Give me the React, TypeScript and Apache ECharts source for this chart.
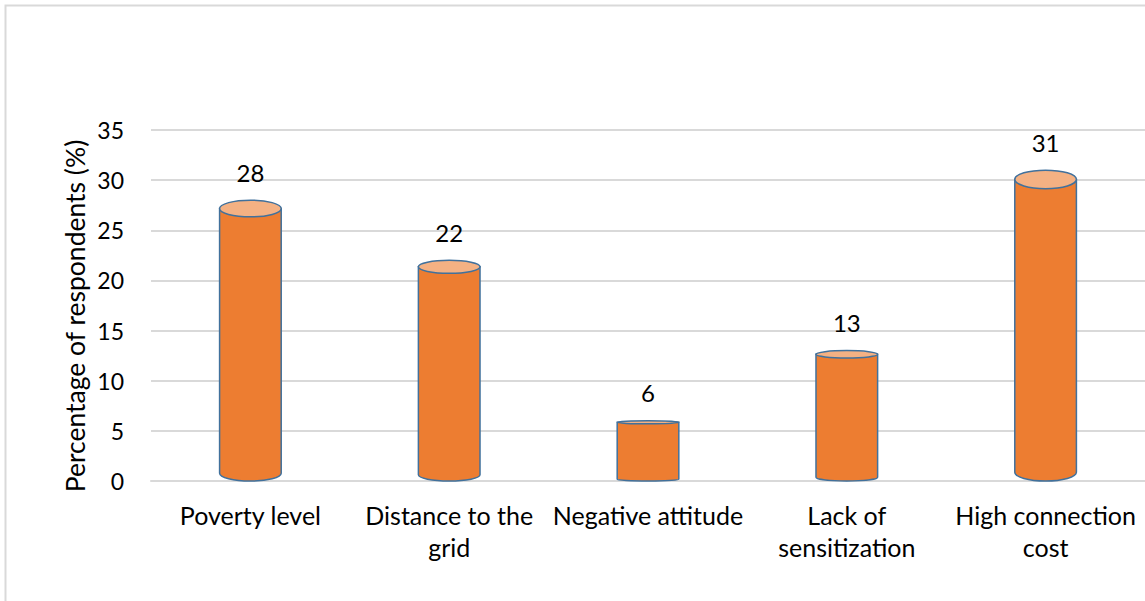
import React, { useEffect, useRef } from "react";
import * as echarts from "echarts";

// Barriers to grid connection, share of respondents
const categories = [
  "Poverty level",
  "Distance to the\ngrid",
  "Negative attitude",
  "Lack of\nsensitization",
  "High connection\ncost",
];
const values = [28, 22, 6, 13, 31];
const yMin = 0;
const yMax = 35;
const yStep = 5;
const yTitle = "Percentage of respondents (%)";

const FONT = "Lato, 'Open Sans', sans-serif";
const BODY = "#ED7D31";
const CAP = "#F4B183";
const EDGE = "#41719C";
const GRID = "#d9d9d9";

export default function App() {
  const ref = useRef<HTMLDivElement>(null);

  useEffect(() => {
    if (!ref.current) return;
    const chart = echarts.init(ref.current, null, { renderer: "svg" });

    // Cylinder: body with rounded base, lighter elliptical cap, value above
    const renderItem = (params: any, api: any) => {
      const i = api.value(0);
      const v = api.value(1);
      const top = api.coord([i, v]);
      const base = api.coord([i, 0]);
      const band = api.size([1, 0])[0];
      const rx = (band * 0.31) / 2;
      const cx = top[0];
      const yTop = top[1];
      const y0 = base[1];
      const ryTop = Math.max(1.3, 0.031 * (y0 - 12 - yTop));
      const cyTop = yTop + ryTop;
      const ryBot = Math.max(1.2, 0.028 * (y0 - yTop));
      const cyBot = y0 - ryBot;
      const xl = cx - rx;
      const xr = cx + rx;

      const bodyPath =
        `M ${xl} ${cyTop} L ${xl} ${cyBot} ` +
        `A ${rx} ${ryBot} 0 0 0 ${xr} ${cyBot} L ${xr} ${cyTop} Z`;
      const capPath =
        `M ${xl} ${cyTop} A ${rx} ${ryTop} 0 1 0 ${xr} ${cyTop} ` +
        `A ${rx} ${ryTop} 0 1 0 ${xl} ${cyTop} Z`;

      return {
        type: "group",
        children: [
          {
            type: "path",
            shape: { pathData: bodyPath },
            style: { fill: BODY, stroke: EDGE, lineWidth: 1.5 },
          },
          {
            type: "path",
            shape: { pathData: capPath },
            style: { fill: CAP, stroke: EDGE, lineWidth: 1.5 },
          },
          {
            type: "text",
            x: cx,
            y: yTop - 28,
            style: {
              text: String(v),
              fill: "#000",
              fontSize: 24,
              fontFamily: FONT,
              align: "center",
              verticalAlign: "middle",
            },
          },
        ],
      };
    };

    chart.setOption({
      animation: false,
      backgroundColor: "#fff",
      grid: { left: 151, top: 130, width: 1000, height: 351 },
      xAxis: {
        type: "category",
        data: categories,
        axisLine: { show: true, lineStyle: { color: GRID, width: 2 } },
        axisTick: { show: false },
        axisLabel: {
          color: "#000",
          fontSize: 25,
          fontFamily: FONT,
          lineHeight: 32,
          margin: 18,
          interval: 0,
        },
      },
      yAxis: {
        type: "value",
        min: yMin,
        max: yMax,
        interval: yStep,
        axisLine: { show: false },
        axisTick: { show: false },
        splitLine: { lineStyle: { color: GRID, width: 2 } },
        axisLabel: {
          color: "#000",
          fontSize: 23,
          fontFamily: FONT,
          margin: 27,
        },
      },
      graphic: [
        {
          type: "rect",
          shape: { x: 5.5, y: 5.5, width: 1150, height: 610 },
          style: { fill: "none", stroke: GRID, lineWidth: 2 },
          silent: true,
        },
        {
          type: "text",
          x: 75,
          y: 316,
          rotation: Math.PI / 2,
          style: {
            text: yTitle,
            fill: "#000",
            fontSize: 26.5,
            fontFamily: FONT,
            align: "center",
            verticalAlign: "middle",
          },
        },
      ],
      series: [
        {
          type: "custom",
          renderItem,
          encode: { x: 0, y: 1 },
          data: values.map((v, i) => [i, v]),
        },
      ],
    });

    return () => chart.dispose();
  }, []);

  return (
    <div
      ref={ref}
      style={{ position: "fixed", left: 0, top: 0, width: 1145, height: 601 }}
    />
  );
}
